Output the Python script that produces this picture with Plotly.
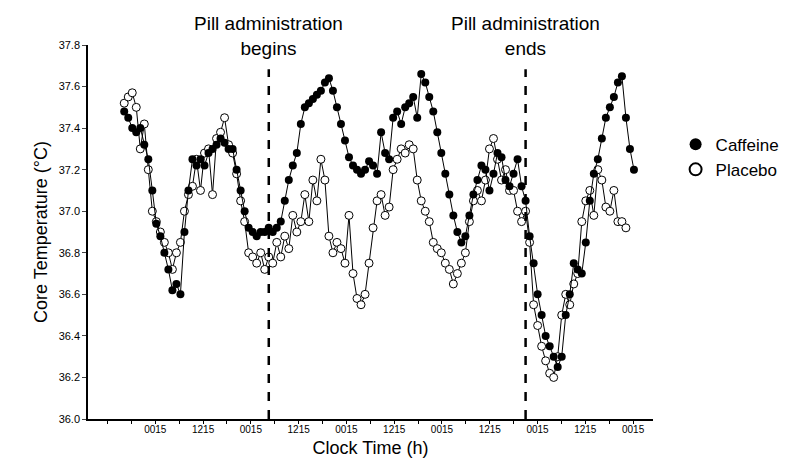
import plotly.graph_objects as go

start_h = -7.8
step_h = 1.008
caffeine = [37.48,37.45,37.40,37.38,37.40,37.32,37.25,37.10,36.94,36.88,36.80,36.72,36.62,36.65,36.60,36.90,37.10,37.25,37.22,37.25,
37.22,37.28,37.30,37.32,37.35,37.33,37.30,37.30,37.20,37.10,37.00,36.92,36.90,36.88,36.90,36.90,36.92,36.90,36.92,36.95,
37.05,37.15,37.22,37.28,37.42,37.50,37.52,37.54,37.56,37.58,37.62,37.64,37.58,37.50,37.42,37.34,37.26,37.22,37.20,37.18,
37.20,37.24,37.22,37.18,37.38,37.28,37.25,37.45,37.48,37.42,37.50,37.52,37.55,37.45,37.66,37.62,37.55,37.48,37.38,37.28,
37.18,37.08,36.98,36.90,36.85,36.88,36.98,37.08,37.15,37.22,37.20,37.10,37.18,37.28,37.26,37.15,37.12,37.18,37.25,37.12,
37.05,36.88,36.75,36.60,36.50,36.40,36.35,36.30,36.25,36.30,36.50,36.60,36.75,36.72,36.70,36.85,37.05,37.18,37.25,37.35,
37.45,37.50,37.55,37.62,37.65,37.45,37.30,37.20]
placebo = [37.52,37.55,37.57,37.50,37.30,37.42,37.20,37.00,36.95,36.90,36.85,36.80,36.72,36.80,36.85,37.00,37.08,37.12,37.25,37.10,
37.28,37.30,37.08,37.35,37.38,37.45,37.32,37.28,37.18,37.05,36.95,36.80,36.78,36.75,36.80,36.72,36.78,36.75,36.85,36.78,
36.88,36.82,36.98,36.90,36.95,37.08,36.95,37.15,37.05,37.25,37.15,36.88,36.80,36.85,36.82,36.75,36.98,36.70,36.58,36.55,
36.60,36.75,36.92,37.05,37.08,36.98,37.02,37.20,37.25,37.30,37.28,37.32,37.30,37.15,37.05,37.00,36.95,36.85,36.82,36.80,
36.75,36.72,36.65,36.70,36.75,36.80,36.95,37.05,37.10,37.05,37.15,37.30,37.35,37.25,37.15,37.20,37.10,37.10,37.00,36.95,
37.00,36.85,36.55,36.45,36.35,36.28,36.22,36.20,36.30,36.50,36.60,36.55,36.65,36.70,36.95,37.05,37.10,36.98,37.20,37.15,
37.02,37.00,37.10,36.95,36.95,36.92]
tick_vals = [0,12,24,36,48,60,72,84,96,108,120]
tick_text = ["0015","1215"]*5+["0015"]
events = [(28.5,"Pill administration<br>begins"),(93.0,"Pill administration<br>ends")]

tc = [start_h+i*step_h for i in range(len(caffeine))]
tp = [start_h+i*step_h for i in range(len(placebo))]

fig = go.Figure()
fig.add_trace(go.Scatter(x=tp, y=placebo, mode="lines+markers", showlegend=False,
    line=dict(color="black", width=1),
    marker=dict(symbol="circle", size=8, color="white", line=dict(color="black", width=1))))
fig.add_trace(go.Scatter(x=tc, y=caffeine, mode="lines+markers", showlegend=False,
    line=dict(color="black", width=1),
    marker=dict(symbol="circle", size=8, color="black")))
fig.add_trace(go.Scatter(x=[None], y=[None], mode="markers", name="Caffeine",
    marker=dict(symbol="circle", size=11, color="black")))
fig.add_trace(go.Scatter(x=[None], y=[None], mode="markers", name="Placebo",
    marker=dict(symbol="circle", size=11, color="white", line=dict(color="black", width=1))))

for xv, txt in events:
    fig.add_shape(type="line", x0=xv, x1=xv, y0=0, y1=0.935, xref="x", yref="paper",
                  line=dict(color="black", width=2.5, dash="dash"))
    fig.add_annotation(x=xv, y=1.09, xref="x", yref="paper", text=txt, showarrow=False,
                       font=dict(size=19, color="black"), yanchor="top")

fig.update_layout(
    width=800, height=466, paper_bgcolor="white", plot_bgcolor="white",
    margin=dict(l=80, r=155, t=37, b=55),
    font=dict(family="Liberation Sans", color="black"),
    legend=dict(x=1.04, y=0.7, yanchor="middle", font=dict(size=17), bgcolor="rgba(0,0,0,0)",
                itemsizing="constant", tracegroupgap=4),
)
fig.update_xaxes(range=[-16.9,125], tickvals=tick_vals, ticktext=tick_text,
    showline=True, linecolor="black", linewidth=1.5, mirror=False, showgrid=False, zeroline=False,
    ticks="", tickfont=dict(size=10),
    minor=dict(dtick=6, tick0=0, ticks="outside", ticklen=3, tickcolor="black"),
    title=dict(text="Clock Time (h)", font=dict(size=18), standoff=8))
fig.update_yaxes(range=[36.0,37.8], dtick=0.2, tickformat=".1f",
    showline=True, linecolor="black", linewidth=1.5, showgrid=False, zeroline=False,
    ticks="outside", ticklen=4, tickfont=dict(size=11),
    title=dict(text="Core Temperature (°C)", font=dict(size=18), standoff=6))
fig.write_html("out.html")
